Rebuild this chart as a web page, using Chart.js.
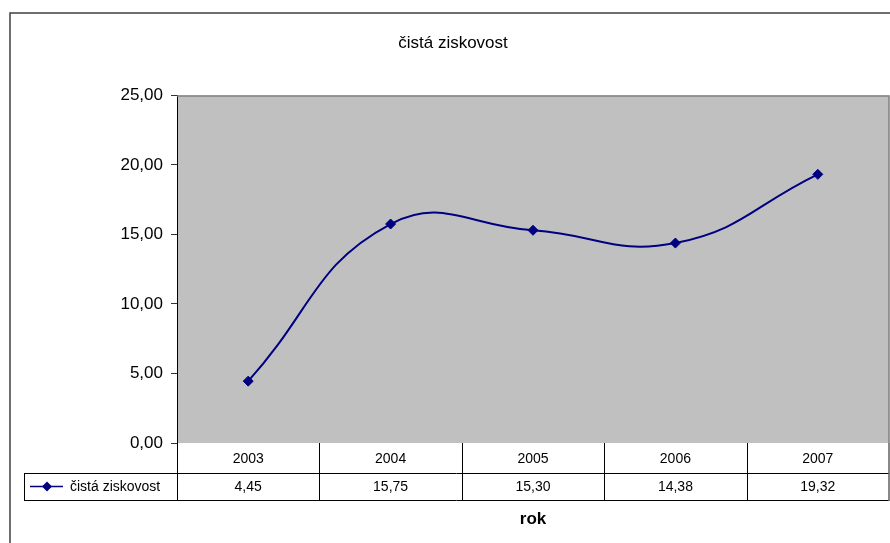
<!DOCTYPE html>
<html>
<head>
<meta charset="utf-8">
<title>čistá ziskovost</title>
<script src="https://cdn.jsdelivr.net/npm/chart.js@4/dist/chart.umd.min.js"></script>
<style>
    html, body { margin: 0; padding: 0; background: #fff; }
    canvas { display: block; }
</style>
</head>
<body>
<canvas id="profitChart" width="890" height="543"></canvas>
<script>
// Data
const years = ['2003', '2004', '2005', '2006', '2007'];
const netProfitability = [4.45, 15.75, 15.30, 14.38, 19.32];
const seriesName = 'čistá ziskovost';
const axisTitle = 'rok';
const yMin = 0;
const yMax = 25;
const yStep = 5;

const FONT = '"Liberation Sans", Arial, sans-serif';
const NAVY = '#000080';

function fmt(v) {
    return v.toFixed(2).replace('.', ',');
}

// Grey plot background + the frame around the whole chart
const plotBackground = {
    id: 'plotBackground',
    beforeDraw(chart) {
        const { ctx, chartArea: a } = chart;
        ctx.save();
        ctx.fillStyle = '#C0C0C0';
        ctx.fillRect(a.left, a.top, a.right - a.left, a.bottom - a.top);

        // outer chart border (left and top edges)
        ctx.strokeStyle = '#404040';
        ctx.lineWidth = 1.5;
        ctx.beginPath();
        ctx.moveTo(10, chart.height);
        ctx.lineTo(10, 13);
        ctx.lineTo(chart.width, 13);
        ctx.stroke();
        ctx.restore();
    },
    afterDraw(chart) {
        const { ctx, chartArea: a } = chart;
        ctx.save();
        ctx.strokeStyle = '#808080';
        ctx.lineWidth = 1.5;
        ctx.beginPath();
        ctx.moveTo(a.left, a.top + 0.5);
        ctx.lineTo(a.right, a.top + 0.5);
        ctx.lineTo(a.right, a.bottom);
        ctx.stroke();
        ctx.restore();
    }
};

// Data table under the plot: years row, series row with legend key, axis title
const dataTable = {
    id: 'dataTable',
    afterDraw(chart) {
        const { ctx, chartArea: a } = chart;
        const xScale = chart.scales.x;
        const colW = (a.right - a.left) / years.length;
        const row1Top = a.bottom;
        const row2Top = a.bottom + 30;
        const row2Bottom = a.bottom + 57;
        const legendLeft = 24;

        ctx.save();
        ctx.strokeStyle = '#000';
        ctx.lineWidth = 1;

        ctx.beginPath();
        ctx.moveTo(legendLeft, row2Top + 0.5);
        ctx.lineTo(a.right, row2Top + 0.5);
        ctx.moveTo(legendLeft, row2Bottom + 0.5);
        ctx.lineTo(a.right, row2Bottom + 0.5);
        ctx.moveTo(legendLeft + 0.5, row2Top);
        ctx.lineTo(legendLeft + 0.5, row2Bottom);
        for (let i = 0; i < years.length; i++) {
            const x = Math.round(a.left + i * colW) + 0.5;
            ctx.moveTo(x, row1Top);
            ctx.lineTo(x, row2Bottom);
        }
        ctx.stroke();

        ctx.strokeStyle = '#606060';
        ctx.lineWidth = 1.5;
        ctx.beginPath();
        ctx.moveTo(a.right, row1Top);
        ctx.lineTo(a.right, row2Bottom + 1);
        ctx.stroke();

        // cell texts
        ctx.fillStyle = '#000';
        ctx.font = '14px ' + FONT;
        ctx.textAlign = 'center';
        ctx.textBaseline = 'middle';
        years.forEach((y, i) => {
            const cx = xScale.getPixelForValue(i);
            ctx.fillText(y, cx, (row1Top + row2Top) / 2 + 1);
            ctx.fillText(fmt(netProfitability[i]), cx, (row2Top + row2Bottom) / 2 + 1);
        });

        // legend key
        const ky = (row2Top + row2Bottom) / 2;
        ctx.strokeStyle = NAVY;
        ctx.lineWidth = 1.5;
        ctx.beginPath();
        ctx.moveTo(30, ky);
        ctx.lineTo(63, ky);
        ctx.stroke();
        ctx.fillStyle = NAVY;
        ctx.beginPath();
        ctx.moveTo(47, ky - 5);
        ctx.lineTo(52, ky);
        ctx.lineTo(47, ky + 5);
        ctx.lineTo(42, ky);
        ctx.closePath();
        ctx.fill();

        ctx.fillStyle = '#000';
        ctx.textAlign = 'left';
        ctx.fillText(seriesName, 70, ky + 1);

        // axis title
        ctx.font = 'bold 17px ' + FONT;
        ctx.textAlign = 'center';
        ctx.fillText(axisTitle, (a.left + a.right) / 2, row2Bottom + 19);
        ctx.restore();
    }
};

const ctx = document.getElementById('profitChart').getContext('2d');
window.profitChart = new Chart(ctx, {
    type: 'line',
    data: {
        labels: years,
        datasets: [{
            label: seriesName,
            data: netProfitability,
            borderColor: NAVY,
            borderWidth: 2,
            tension: 0.45,
            pointStyle: 'rectRot',
            pointRadius: 5,
            pointBackgroundColor: NAVY,
            pointBorderColor: NAVY,
            pointBorderWidth: 1
        }]
    },
    options: {
        responsive: false,
        animation: false,
        devicePixelRatio: 1,
        layout: {
            autoPadding: false,
            padding: { left: 17, right: 1, top: 0, bottom: 100 }
        },
        plugins: {
            legend: { display: false },
            tooltip: { enabled: false },
            title: {
                display: true,
                text: seriesName,
                color: '#000',
                font: { family: FONT, size: 17, weight: 'normal', lineHeight: 1.2 },
                padding: { top: 33, bottom: 42 }
            }
        },
        scales: {
            x: {
                display: false,
                offset: true
            },
            y: {
                min: yMin,
                max: yMax,
                afterFit: scale => { scale.width = 160; },
                border: { display: true, color: '#000', width: 1 },
                grid: {
                    drawOnChartArea: false,
                    drawTicks: true,
                    tickLength: 6,
                    color: '#333'
                },
                ticks: {
                    stepSize: yStep,
                    padding: 8,
                    color: '#000',
                    font: { family: FONT, size: 17 },
                    callback: v => fmt(v)
                }
            }
        }
    },
    plugins: [plotBackground, dataTable]
});
</script>
</body>
</html>
